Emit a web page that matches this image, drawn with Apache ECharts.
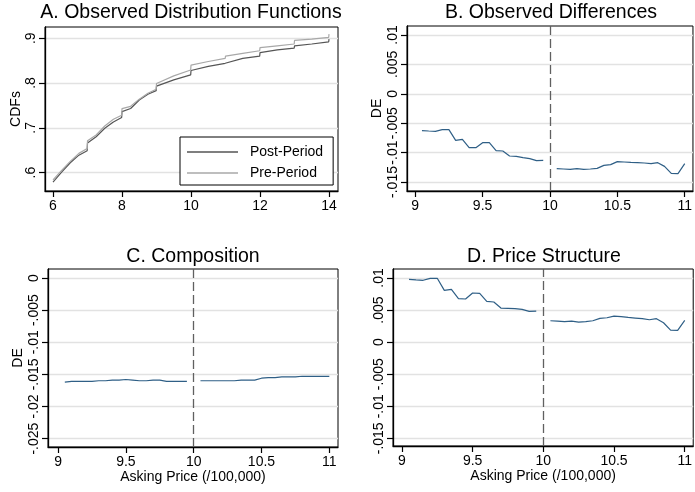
<!DOCTYPE html>
<html>
<head>
<meta charset="utf-8">
<script src="https://cdn.jsdelivr.net/npm/echarts@6/dist/echarts.min.js"></script>
<style>
  html, body { margin: 0; padding: 0; background: #fff; }
  #main { width: 695px; height: 492px; }
</style>
</head>
<body>
<div id="main"></div>
<script>
// panel A: observed CDFs (asking price, /100,000)
const cdfX = [6, 6.25, 6.5, 6.75, 6.99, 7, 7.25, 7.5, 7.75, 7.99, 8, 8.25, 8.5, 8.75, 8.99, 9, 9.5, 9.99,
  10, 10.5, 10.99, 11, 11.5, 11.99, 12, 12.5, 12.99, 13, 13.5, 13.99, 14];
const cdfPost = [.579, .601, .622, .639, .649, .666, .680, .699, .713, .723, .736, .743, .762, .775, .783, .793, .807, .818,
  .828, .837, .844, .848, .855, .860, .868, .874, .878, .883, .887, .892, .898];
const cdfPre = [.584, .605, .625, .643, .654, .671, .684, .704, .719, .728, .743, .748, .764, .777, .786, .799, .816, .829,
  .840, .848, .855, .860, .866, .872, .879, .883, .887, .895, .898, .902, .909];

// panels B-D: price points below / above 10
const priceLeft = [9.05, 9.1, 9.15, 9.2, 9.25, 9.3, 9.35, 9.4, 9.45, 9.5, 9.55, 9.6, 9.65, 9.7, 9.75, 9.8, 9.85, 9.9, 9.95];
const priceRight = [10.05, 10.1, 10.15, 10.2, 10.25, 10.3, 10.35, 10.4, 10.45, 10.5, 10.55, 10.6, 10.65, 10.7, 10.75, 10.8, 10.85, 10.9, 10.95, 11];

const obsLeft = [-.00627, -.00633, -.00638, -.0061, -.0061, -.00791, -.00774, -.00916, -.00916, -.00831, -.00831,
  -.00967, -.00973, -.01058, -.01064, -.01086, -.01103, -.01137, -.01132];
const obsRight = [-.01273, -.01279, -.01285, -.01273, -.01285, -.01279, -.01268, -.01217, -.01205, -.01154, -.0116,
  -.01166, -.01171, -.01177, -.01188, -.01171, -.01234, -.01353, -.01358, -.01188];

const compLeft = [-.0162, -.0161, -.0161, -.0161, -.0161, -.0160, -.0160, -.0159, -.0159, -.0158, -.0159, -.0160,
  -.0160, -.0159, -.0159, -.0161, -.0161, -.0161, -.0161];
const compRight = [-.0160, -.0160, -.0160, -.0160, -.0160, -.0160, -.0159, -.0159, -.0159, -.0156, -.0155, -.0155,
  -.0154, -.0154, -.0154, -.0153, -.0153, -.0153, -.0153, -.0153];

const structLeft = [.00979, .00969, .00964, .00995, .00995, .00807, .00823, .00677, .00672, .00766, .0076, .00635,
  .00625, .00531, .00526, .00521, .0051, .00479, .00484];
const structRight = [.00333, .00328, .00318, .00328, .00313, .00318, .00333, .0037, .0038, .00406, .00396, .00385,
  .00375, .00365, .00349, .00365, .00302, .00188, .00182, .00339];

const titles = ['A. Observed Distribution Functions', 'B. Observed Differences', 'C. Composition', 'D. Price Structure'];

const font = 'Liberation Sans';
const lineBlue = '#2f5f86';

function pairs(xs, ys) {
  return xs.map((x, i) => [x, ys[i]]);
}

function tickFmt(v) {
  let s = String(+v.toFixed(4));
  return s.replace(/^0\./, '.').replace(/^-0\./, '-.');
}

function fnX(idx, min, max, name) {
  return {
    type: 'value', gridIndex: idx, min: min, max: max, splitNumber: 4,
    name: name || '', nameLocation: 'middle', nameGap: 22,
    nameTextStyle: { fontFamily: font, fontSize: 14, color: '#000' },
    axisLine: { onZero: false, lineStyle: { color: '#000', width: 1.3 } },
    axisTick: { show: true, length: 6, lineStyle: { color: '#000', width: 1.2 } },
    axisLabel: { fontFamily: font, fontSize: 14, color: '#000', margin: 8, showMinLabel: false, showMaxLabel: false },
    splitLine: { show: false }
  };
}

function fnY(idx, min, max, split, name, gap) {
  return {
    type: 'value', gridIndex: idx, min: min, max: max, splitNumber: split,
    name: name || '', nameLocation: 'middle', nameGap: gap,
    nameTextStyle: { fontFamily: font, fontSize: 14, color: '#000' },
    axisLine: { onZero: false, lineStyle: { color: '#000', width: 1.3 } },
    axisTick: { show: true, length: 6, lineStyle: { color: '#000', width: 1.2 } },
    axisLabel: { fontFamily: font, fontSize: 14, color: '#000', margin: 7, rotate: 90,
      showMinLabel: false, showMaxLabel: false, formatter: tickFmt },
    splitLine: { show: true, showMinLine: false, showMaxLine: false, lineStyle: { color: '#e2e2e2', width: 1.3 } }
  };
}

function fnLine(idx, xs, ys, withCut) {
  let s = {
    type: 'line', xAxisIndex: idx, yAxisIndex: idx, data: pairs(xs, ys),
    symbol: 'none', lineStyle: { color: lineBlue, width: 1.2 }, itemStyle: { color: lineBlue },
    animation: false, silent: true
  };
  if (withCut) {
    s.markLine = {
      silent: true, symbol: ['none', 'none'], label: { show: false }, animation: false,
      lineStyle: { color: '#606060', width: 1.3, type: [9, 4] },
      data: [{ xAxis: 10 }]
    };
  }
  return s;
}

const grids = [
  { left: 45, top: 27, width: 293, height: 164 },
  { left: 407, top: 26, width: 290, height: 165 },
  { left: 48, top: 269, width: 290, height: 178 },
  { left: 393, top: 269, width: 304, height: 177 }
];

const option = {
  backgroundColor: '#fff',
  title: titles.map((t, i) => ({
    text: t, left: [191, 551, 193, 544][i], top: [3, 3, 247, 247][i], textAlign: 'center', padding: 0,
    textStyle: { fontFamily: font, fontSize: 19.5, fontWeight: 'normal', color: '#000' }
  })),
  legend: {
    left: 180, top: 137, orient: 'vertical',
    data: ['Post-Period', 'Pre-Period'],
    icon: 'rect',
    itemWidth: 51, itemHeight: 1.4, itemGap: 7,
    padding: [8, 10, 5, 7],
    borderColor: '#000', borderWidth: 1, backgroundColor: '#fff',
    textStyle: { fontFamily: font, fontSize: 14, lineHeight: 14, color: '#000', padding: [0, 0, 0, 7] }
  },
  grid: grids.map(g => Object.assign({ show: true, borderColor: '#000', borderWidth: 1, backgroundColor: '#fff' }, g)),
  xAxis: [
    fnX(0, 5.768, 14.26),
    fnX(1, 8.939, 11.061),
    fnX(2, 8.926, 11.064, 'Asking Price (/100,000)'),
    fnX(3, 8.937, 11.06, 'Asking Price (/100,000)')
  ],
  yAxis: [
    fnY(0, .559, .925, 4, 'CDFs', 18),
    fnY(1, -.01653, .01153, 6, 'DE', 23),
    fnY(2, -.02631, .0014, 6, 'DE', 23),
    fnY(3, -.0162, .0114, 6, '', 23)
  ],
  series: [
    { name: 'Post-Period', type: 'line', xAxisIndex: 0, yAxisIndex: 0, data: pairs(cdfX, cdfPost),
      symbol: 'none', lineStyle: { color: '#555', width: 1.2 }, itemStyle: { color: '#555' }, animation: false },
    { name: 'Pre-Period', type: 'line', xAxisIndex: 0, yAxisIndex: 0, data: pairs(cdfX, cdfPre),
      symbol: 'none', lineStyle: { color: '#a8a8a8', width: 1.2 }, itemStyle: { color: '#a8a8a8' }, animation: false },
    fnLine(1, priceLeft, obsLeft, true),
    fnLine(1, priceRight, obsRight, false),
    fnLine(2, priceLeft, compLeft, true),
    fnLine(2, priceRight, compRight, false),
    fnLine(3, priceLeft, structLeft, true),
    fnLine(3, priceRight, structRight, false)
  ]
};

const chart = echarts.init(document.getElementById('main'), null, { renderer: 'canvas' });
chart.setOption(option);
</script>
</body>
</html>
